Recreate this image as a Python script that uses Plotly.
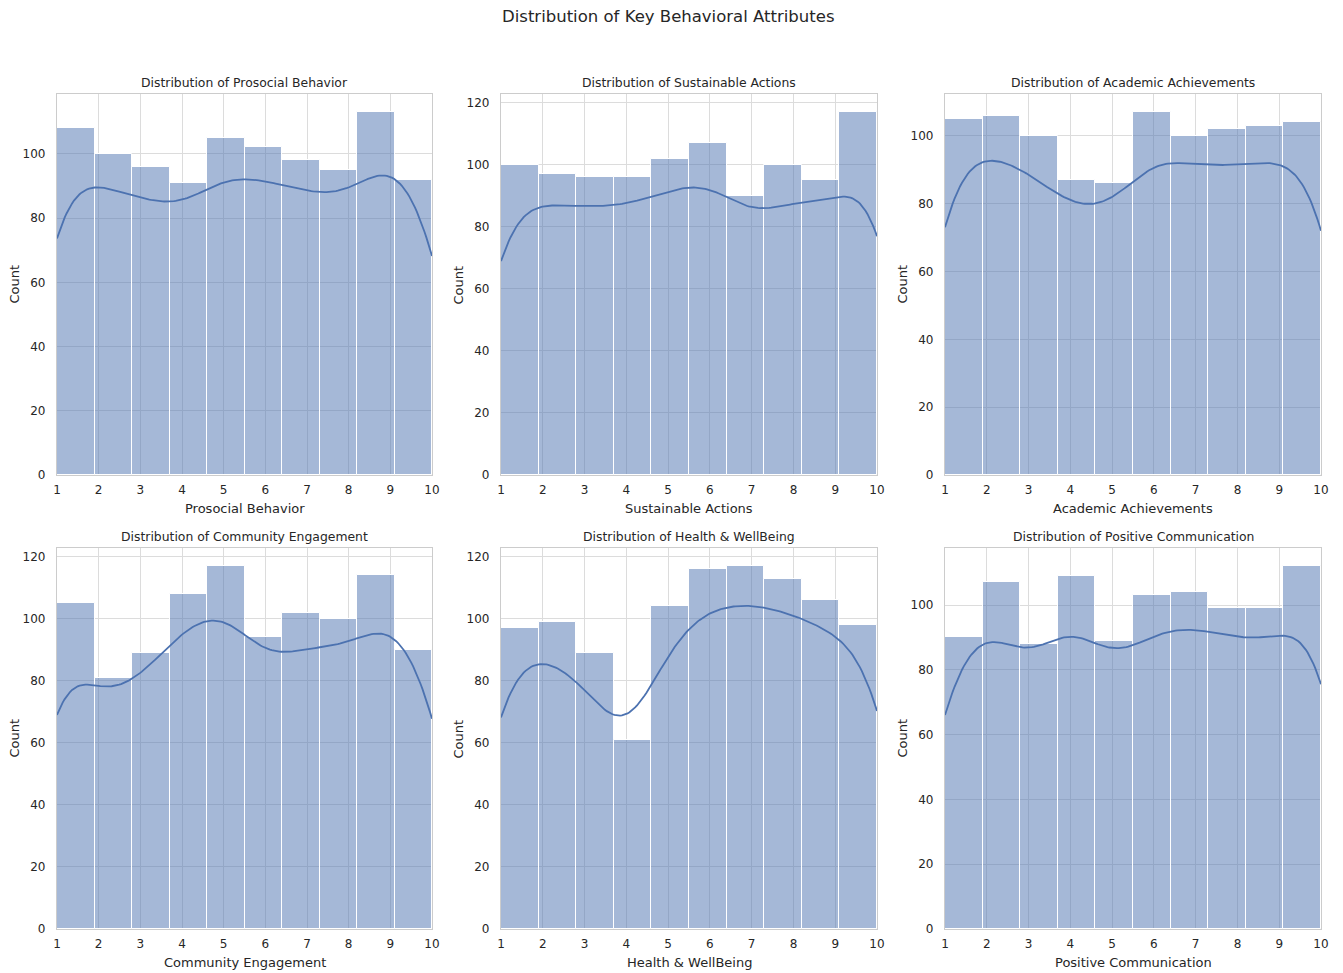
import numpy as np
import plotly.graph_objects as go

# Histogram counts for each score (1..10) per attribute
scores = [1, 2, 3, 4, 5, 6, 7, 8, 9, 10]
prosocial_behavior = [108, 100, 96, 91, 105, 102, 98, 95, 113, 92]
sustainable_actions = [100, 97, 96, 96, 102, 107, 90, 100, 95, 117]
academic_achievements = [105, 106, 100, 87, 86, 107, 100, 102, 103, 104]
community_engagement = [105, 81, 89, 108, 117, 94, 102, 100, 114, 90]
health_wellbeing = [97, 99, 89, 61, 104, 116, 117, 113, 106, 98]
positive_communication = [90, 107, 88, 109, 89, 103, 104, 99, 99, 112]

attributes = [
    ("Prosocial Behavior", prosocial_behavior),
    ("Sustainable Actions", sustainable_actions),
    ("Academic Achievements", academic_achievements),
    ("Community Engagement", community_engagement),
    ("Health & WellBeing", health_wellbeing),
    ("Positive Communication", positive_communication),
]

W, H = 1343, 973
BLUE = "#4C72B0"
BAR_FILL = "rgba(76,114,176,0.5)"
GRID = "#dcdcdc"
EDGE = "#cccccc"
TEXT = "#262626"
FONT = "DejaVu Sans"
CLEAR = "rgba(0,0,0,0)"

# pixel boxes of the six panels
col_px = [(57, 432), (501, 877), (945, 1321)]
row_px = [(94, 475), (548, 929)]

n_bins = 10
lo, hi = min(scores), max(scores)
bin_w = (hi - lo) / n_bins
edges = np.linspace(lo, hi, n_bins + 1)
centers = (edges[:-1] + edges[1:]) / 2


def kde_counts(counts, grid):
    """Gaussian KDE (Scott bandwidth) scaled to histogram counts."""
    data = np.repeat(scores, counts).astype(float)
    n = data.size
    bw = data.std(ddof=1) * n ** (-1 / 5)
    z = (grid[:, None] - data[None, :]) / bw
    dens = np.exp(-0.5 * z ** 2).sum(axis=1) / (n * bw * np.sqrt(2 * np.pi))
    return dens * n * bin_w


def px_x(p):
    return p / W


def px_y(p):
    return 1 - p / H


fig = go.Figure()
layout = dict(
    width=W, height=H,
    margin=dict(l=0, r=0, t=0, b=0),
    paper_bgcolor="white", plot_bgcolor="white",
    showlegend=False,
    font=dict(family=FONT, color=TEXT, size=12),
    bargap=0,
)
annotations = [dict(
    text="Distribution of Key Behavioral Attributes",
    x=px_x(668), y=px_y(16), xref="paper", yref="paper",
    xanchor="center", yanchor="middle", showarrow=False,
    font=dict(family=FONT, size=16.5, color=TEXT),
)]

grid_x = np.linspace(lo, hi, 200)

for i, (name, counts) in enumerate(attributes):
    r, c = divmod(i, 3)
    k = i + 1
    xa = "x" if k == 1 else f"x{k}"
    ya = "y" if k == 1 else f"y{k}"
    xl = "xaxis" if k == 1 else f"xaxis{k}"
    yl = "yaxis" if k == 1 else f"yaxis{k}"
    x0, x1 = col_px[c]
    y0, y1 = row_px[r]

    fig.add_trace(go.Bar(
        x=centers, y=counts, width=bin_w,
        marker=dict(color=BAR_FILL, line=dict(color="white", width=1)),
        xaxis=xa, yaxis=ya, hoverinfo="x+y",
    ))
    fig.add_trace(go.Scatter(
        x=grid_x, y=kde_counts(counts, grid_x), mode="lines",
        line=dict(color=BLUE, width=1.8), xaxis=xa, yaxis=ya,
    ))

    layout[xl] = dict(
        domain=[px_x(x0), px_x(x1)], anchor=ya, range=[lo, hi],
        tickmode="array", tickvals=scores,
        ticks="outside", ticklen=3, tickcolor=CLEAR,
        showgrid=True, gridcolor=GRID, gridwidth=1,
        showline=True, linecolor=EDGE, linewidth=1.3, mirror=True,
        zeroline=False, automargin=False,
        tickfont=dict(family=FONT, size=12, color=TEXT),
    )
    layout[yl] = dict(
        domain=[px_y(y1), px_y(y0)], anchor=xa,
        range=[0, max(counts) * 1.05], dtick=20,
        ticks="outside", ticklen=8, tickcolor=CLEAR,
        showgrid=True, gridcolor=GRID, gridwidth=1,
        showline=True, linecolor=EDGE, linewidth=1.3, mirror=True,
        zeroline=False, automargin=False,
        tickfont=dict(family=FONT, size=12, color=TEXT),
    )
    # panel title
    annotations.append(dict(
        text=f"Distribution of {name}",
        x=px_x((x0 + x1) / 2), y=px_y(y0 - 12),
        xref="paper", yref="paper", xanchor="center", yanchor="middle",
        showarrow=False, font=dict(family=FONT, size=12.4, color=TEXT),
    ))
    # x axis title
    annotations.append(dict(
        text=name,
        x=px_x((x0 + x1) / 2), y=px_y(y1 + 33),
        xref="paper", yref="paper", xanchor="center", yanchor="middle",
        showarrow=False, font=dict(family=FONT, size=13, color=TEXT),
    ))
    # y axis title
    annotations.append(dict(
        text="Count", textangle=-90,
        x=px_x(x0 - 43), y=px_y((y0 + y1) / 2),
        xref="paper", yref="paper", xanchor="center", yanchor="middle",
        showarrow=False, font=dict(family=FONT, size=13, color=TEXT),
    ))

layout["annotations"] = annotations
fig.update_layout(**layout)
fig.write_html("out.html")
